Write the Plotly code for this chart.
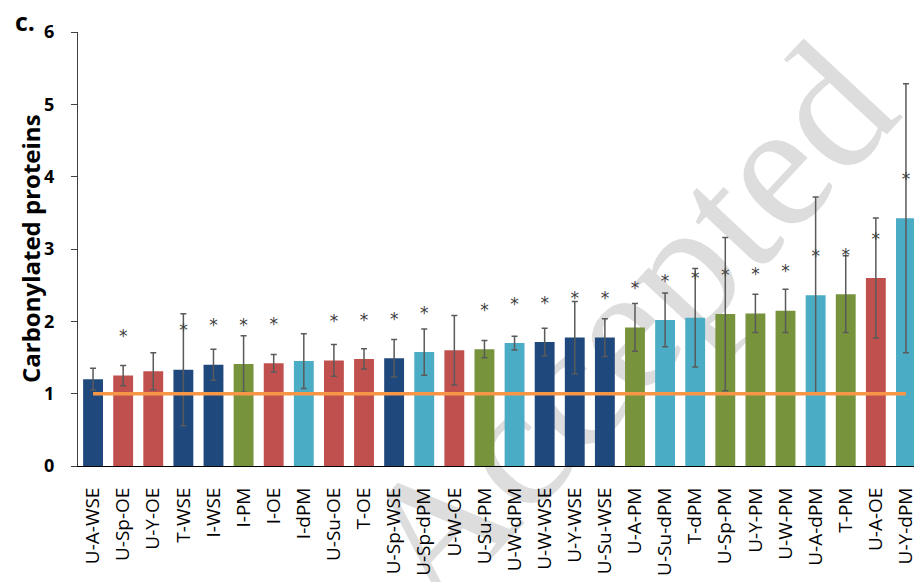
import plotly.graph_objects as go

categories = ["U-A-WSE", "U-Sp-OE", "U-Y-OE", "T-WSE", "I-WSE", "I-PM", "I-OE", "I-dPM",
              "U-Su-OE", "T-OE", "U-Sp-WSE", "U-Sp-dPM", "U-W-OE", "U-Su-PM", "U-W-dPM",
              "U-W-WSE", "U-Y-WSE", "U-Su-WSE", "U-A-PM", "U-Su-dPM", "T-dPM", "U-Sp-PM",
              "U-Y-PM", "U-W-PM", "U-A-dPM", "T-PM", "U-A-OE", "U-Y-dPM"]
values = [1.20, 1.25, 1.31, 1.33, 1.40, 1.41, 1.42, 1.45, 1.46, 1.48, 1.49, 1.575, 1.60, 1.615,
          1.70, 1.715, 1.775, 1.775, 1.915, 2.02, 2.05, 2.10, 2.11, 2.145, 2.36, 2.375, 2.60, 3.425]
errors = [0.15, 0.14, 0.255, 0.775, 0.215, 0.39, 0.12, 0.38, 0.22, 0.14, 0.26, 0.32, 0.48, 0.12,
          0.095, 0.19, 0.50, 0.26, 0.33, 0.37, 0.68, 1.06, 0.265, 0.30, 1.36, 0.53, 0.83, 1.86]
significant = [False, True, False, True, True, True, True, False, True, True, True, True, False, True,
               True, True, True, True, True, True, True, True, True, True, True, True, True, True]
reference_level = 1

COLORS = {"WSE": "#1F497D", "OE": "#C0504D", "PM": "#77933C", "dPM": "#4BACC6"}
STAR_OFFSET = 0.52


def sample_type(label):
    return label.split("-")[-1]


fig = go.Figure()
fig.add_trace(go.Bar(
    x=categories, y=values,
    marker=dict(color=[COLORS[sample_type(c)] for c in categories], line=dict(width=0)),
    error_y=dict(type="data", array=errors, visible=True, color="#5A5A5A", thickness=1.5, width=3),
    hoverinfo="x+y",
))
fig.add_trace(go.Scatter(
    x=[categories[0], categories[-1]], y=[reference_level, reference_level],
    mode="lines", line=dict(color="#F79646", width=3.5), hoverinfo="skip",
))
star_x = [c for c, s in zip(categories, significant) if s]
star_y = [v + STAR_OFFSET for v, s in zip(values, significant) if s]
fig.add_trace(go.Scatter(
    x=star_x, y=star_y, mode="text", text=["*"] * len(star_x), textposition="middle center",
    textfont=dict(size=17, color="#404040", family="DejaVu Sans"), hoverinfo="skip",
))

fig.add_shape(
    type="rect", xref="paper", yref="paper", x0=0.627, x1=0.637, y0=0.352, y1=0.362,
    line=dict(width=0), fillcolor="rgba(0,0,0,0)", layer="below",
    label=dict(text="Accepted", textangle=-47, textposition="middle center",
               font=dict(family="Liberation Serif", size=182, color="#DDDDDD")),
)

fig.add_annotation(
    text="<b>Carbonylated proteins</b>", xref="paper", yref="paper",
    x=(30 - 78) / 843, y=0.5, xanchor="center", yanchor="middle", textangle=-90,
    showarrow=False, font=dict(family="Open Sans", size=24, color="black"),
)
fig.add_annotation(
    text="<b>c.</b>", xref="paper", yref="paper",
    x=(25 - 78) / 843, y=(466 - 21) / 434.3, xanchor="center", yanchor="middle",
    showarrow=False, font=dict(family="Open Sans", size=25, color="black"),
)

fig.update_layout(
    width=914, height=574, autosize=False,
    margin=dict(l=70, r=1, t=24, b=116, pad=0),
    paper_bgcolor="white", plot_bgcolor="white",
    showlegend=False, bargap=0.34,
    font=dict(family="Open Sans", color="black"),
)
fig.update_xaxes(
    type="category", range=[-0.5, len(categories) - 0.5],
    showline=True, linecolor="black", linewidth=1, ticks="", tickangle=-90,
    tickfont=dict(family="Open Sans", size=19, color="black"),
    showgrid=False, zeroline=False, ticklabelstandoff=13,
)
fig.update_yaxes(
    range=[0, 6], dtick=1, showline=True, linecolor="#404040", linewidth=1,
    ticks="outside", ticklen=6, tickcolor="#404040", tickwidth=1,
    tickfont=dict(family="Open Sans", size=18, color="black", weight="bold"),
    showgrid=False, zeroline=False, ticklabelstandoff=13,
)

fig.write_html("out.html")
